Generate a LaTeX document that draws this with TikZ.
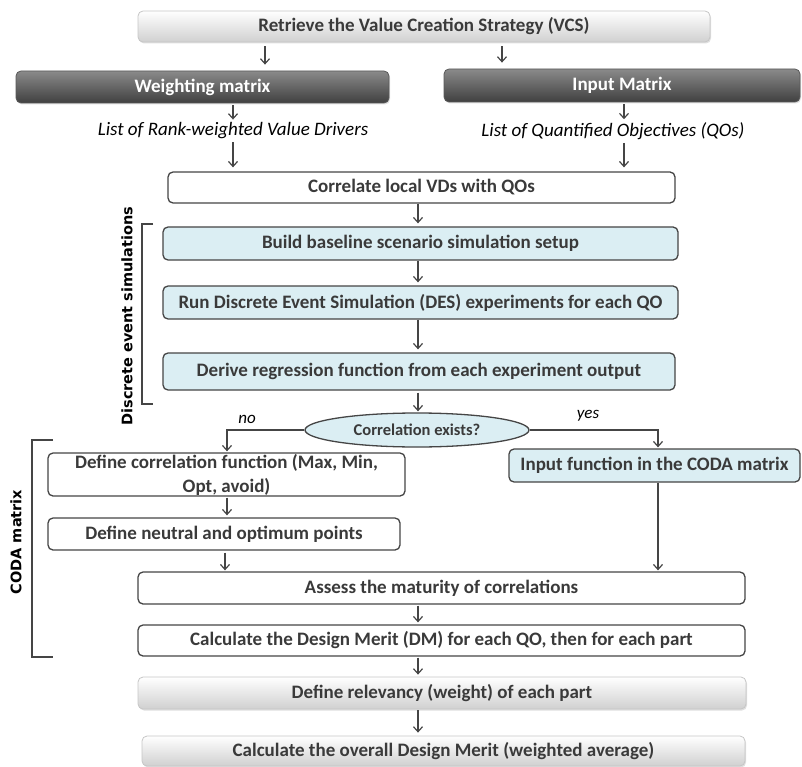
\documentclass[tikz,border=0pt]{standalone}
\usepackage{fontspec}
\setmainfont{Carlito}
\newfontfamily\lblfont{DejaVu Sans}
\usetikzlibrary{arrows.meta,shapes.geometric,shadows,calc}
\definecolor{lc}{HTML}{454545}
\definecolor{tc}{HTML}{3A3A3A}
\definecolor{lb}{HTML}{DBEEF3}
\definecolor{dtop}{HTML}{8A8A8A}
\definecolor{dbot}{HTML}{404040}
\definecolor{gbot}{HTML}{D0D0D0}
\tikzset{
  box/.style={draw=lc, line width=1.3pt, rounded corners=5pt, text=tc,
    font=\fontsize{19}{24}\selectfont\bfseries, inner sep=0pt, align=center},
  plainbox/.style={box, fill=white},
  bluebox/.style={box, fill=lb},
  gradbox/.style={box, draw=gray!45, line width=0.8pt, top color=white, bottom color=gbot,
    drop shadow={shadow xshift=1pt, shadow yshift=-1.5pt, opacity=0.25}},
  darkbox/.style={box, draw=gray!70!black, line width=0.8pt, top color=dtop, bottom color=dbot,
    text=white, drop shadow={shadow xshift=1pt, shadow yshift=-1.5pt, opacity=0.25}},
  itlabel/.style={font=\fontsize{19}{24}\selectfont\itshape, text=black, inner sep=2pt},
  arr/.style={draw=lc, line width=1.2pt, -{Straight Barb[length=5pt,width=9pt]}},
  brk/.style={draw=lc, line width=1.3pt},
  brklabel/.style={font=\fontsize{14.5}{17}\selectfont\lblfont\bfseries, text=black, rotate=90},
}
\begin{document}
\begin{tikzpicture}[x=1pt,y=-1pt]
\useasboundingbox (0,0) rectangle (802,767);
% column coordinates
\coordinate (cx) at (418,0);
\coordinate (a1) at (265,0);
\coordinate (a2) at (502,0);
\coordinate (a3) at (233,0);
\coordinate (a4) at (624,0);
\coordinate (cn) at (227,0);
\coordinate (cn2) at (225,0);
\coordinate (cy) at (658,0);

\node[gradbox, minimum width=572pt, minimum height=31pt] (vcs) at (424,26.5) {Retrieve the Value Creation Strategy (VCS)};
\node[darkbox, minimum width=373pt, minimum height=32pt] (wm) at (202.5,87) {Weighting matrix};
\node[darkbox, minimum width=356pt, minimum height=33pt] (im) at (622,85.5) {Input Matrix};
\node[itlabel] (l1) at (233,131) {List of Rank-weighted Value Drivers};
\node[itlabel] (l2) at (613,131) {List of Quantified Objectives (QOs)};
\node[plainbox, minimum width=507pt, minimum height=31pt] (cor) at (421.5,187.5) {Correlate local VDs with QOs};
\node[bluebox, minimum width=515pt, minimum height=33pt] (build) at (420.5,243.5) {Build baseline scenario simulation setup};
\node[bluebox, minimum width=515pt, minimum height=33pt] (run) at (420.5,302.5) {Run Discrete Event Simulation (DES) experiments for each QO};
\node[bluebox, minimum width=512pt, minimum height=37pt] (der) at (419,371.5) {Derive regression function from each experiment output};
\node[ellipse, draw=lc, line width=1.3pt, fill=lb, text=tc, inner sep=0pt,
  minimum width=224pt, minimum height=34pt, font=\fontsize{16.5}{19}\selectfont\bfseries] (ell) at (417,430) {Correlation exists?};
\node[plainbox, minimum width=357pt, minimum height=43pt] (dcf) at (226.5,474.5) {Define correlation function (Max, Min,\\Opt, avoid)};
\node[bluebox, minimum width=291pt, minimum height=33pt] (inf) at (654.5,465.5) {Input function in the CODA matrix};
\node[plainbox, minimum width=352pt, minimum height=32pt] (dnp) at (224,534) {Define neutral and optimum points};
\node[plainbox, minimum width=607pt, minimum height=32pt] (ass) at (441.5,588) {Assess the maturity of correlations};
\node[plainbox, minimum width=607pt, minimum height=31pt] (dm) at (441.5,640.5) {Calculate the Design Merit (DM) for each QO, then for each part};
\node[gradbox, minimum width=608pt, minimum height=32pt] (rel) at (442,693) {Define relevancy (weight) of each part};
\node[gradbox, minimum width=603pt, minimum height=30pt] (ovr) at (443.5,751) {Calculate the overall Design Merit (weighted average)};

\node[itlabel, font=\fontsize{17}{20}\selectfont\itshape] (no) at (247,419) {no};
\node[itlabel, font=\fontsize{17}{20}\selectfont\itshape] (yes) at (588,416) {yes};

% connectors
\draw[arr, shorten <=4pt, shorten >=6pt] (vcs.south -| a1) -- (wm.north -| a1);
\draw[arr, shorten <=4pt, shorten >=6pt] (vcs.south -| a2) -- (im.north -| a2);
\draw[arr, shorten <=2pt, shorten >=1pt] (wm.south -| a3) -- (l1.north -| a3);
\draw[arr, shorten <=2pt, shorten >=1pt] (im.south -| a4) -- (l2.north -| a4);
\draw[arr, shorten <=1pt, shorten >=4pt] (l1.south -| a3) -- (cor.north -| a3);
\draw[arr, shorten <=1pt, shorten >=4pt] (l2.south -| a4) -- (cor.north -| a4);
\draw[arr, shorten >=3pt] (cor.south -| cx) -- (build.north -| cx);
\draw[arr, shorten >=3pt] (build.south -| cx) -- (run.north -| cx);
\draw[arr, shorten >=3pt] (run.south -| cx) -- (der.north -| cx);
\draw[arr, shorten <=2pt, shorten >=1pt] (der.south -| cx) -- (ell.north -| cx);
\draw[arr, shorten >=1pt] (ell.west) -| (dcf.north -| cn);
\draw[arr, shorten >=1pt] (ell.east) -| (inf.north -| cy);
\draw[arr, shorten <=1pt, shorten >=2pt] (dcf.south -| cn) -- (dnp.north -| cn);
\draw[arr, shorten <=2pt, shorten >=1pt] (dnp.south -| cn2) -- (ass.north -| cn2);
\draw[arr, shorten >=1pt] (inf.south -| cy) -- (ass.north -| cy);
\draw[arr, shorten <=1pt, shorten >=2pt] (ass.south -| cx) -- (dm.north -| cx);
\draw[arr, shorten <=1pt, shorten >=2pt] (dm.south -| cx) -- (rel.north -| cx);
\draw[arr, shorten <=1pt, shorten >=3pt] (rel.south -| cx) -- (ovr.north -| cx);

% brackets
\draw[brk] (153,224) -- (142,224) -- (142,404) -- (153,404);
\node[brklabel] (deslbl) at (127,316) {Discrete event simulations};
\draw[brk] (53,440) -- (32,440) -- (32,657) -- (53,657);
\node[brklabel] (codalbl) at (16,542) {CODA matrix};
\end{tikzpicture}
\end{document}
